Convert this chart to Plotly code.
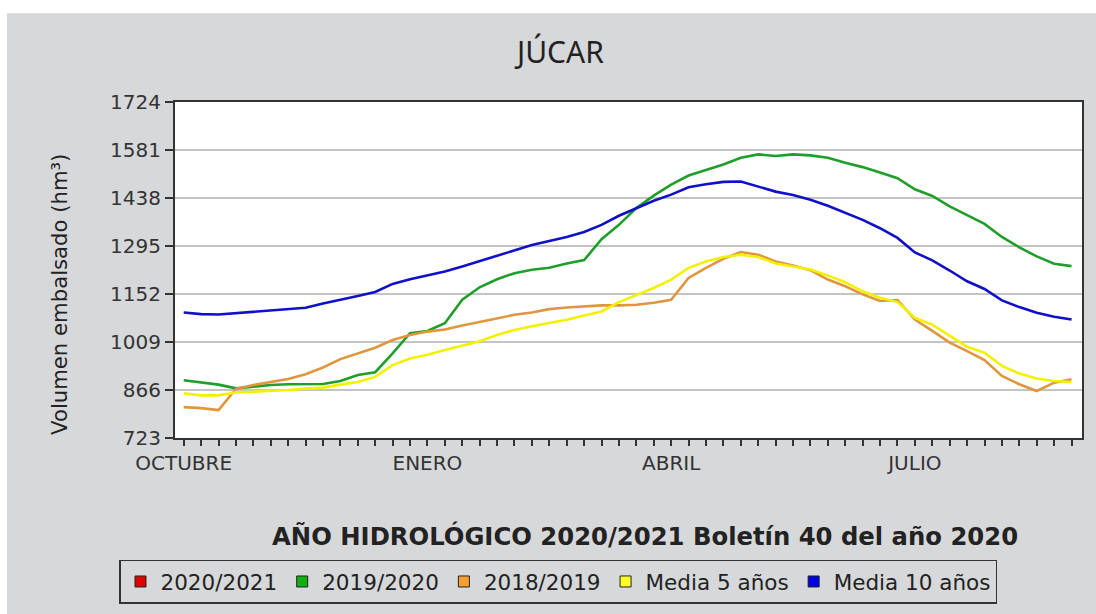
import plotly.graph_objects as go

# ---- data ----
semanas = list(range(52))
mes_pos = [0, 14, 28, 42]
mes_txt = ["OCTUBRE", "ENERO", "ABRIL", "JULIO"]
y_ticks = [723, 866, 1009, 1152, 1295, 1438, 1581, 1724]

s2020_2021 = []
s2019_2020 = [895, 888, 882, 871, 877, 881, 883, 883, 884, 893, 911, 919, 975, 1035, 1042, 1065,
              1135, 1172, 1196, 1214, 1224, 1230, 1243, 1253, 1315, 1358, 1408, 1445, 1478, 1505,
              1522, 1538, 1558, 1568, 1563, 1568, 1565, 1558, 1543, 1530, 1514, 1497, 1464, 1444,
              1413, 1388, 1361, 1322, 1291, 1264, 1242, 1235]
s2018_2019 = [815, 812, 806, 869, 881, 889, 899, 913, 933, 958, 976, 992, 1015, 1030, 1040, 1046,
              1058, 1068, 1080, 1090, 1097, 1107, 1112, 1116, 1118, 1118, 1120, 1126, 1135, 1200,
              1230, 1257, 1277, 1269, 1249, 1237, 1223, 1195, 1175, 1151, 1131, 1134, 1076, 1042,
              1007, 982, 955, 908, 883, 863, 888, 898]
media5 = [856, 850, 850, 859, 861, 863, 866, 870, 873, 882, 890, 905, 940, 960, 971, 985,
          999, 1011, 1030, 1045, 1056, 1065, 1075, 1088, 1100, 1128, 1150, 1170, 1195, 1230,
          1249, 1262, 1269, 1262, 1243, 1235, 1225, 1207, 1187, 1160, 1141, 1128, 1081, 1061,
          1027, 995, 977, 938, 915, 900, 893, 890]
media10 = [1097, 1092, 1091, 1095, 1097, 1102, 1106, 1111, 1124, 1134, 1146, 1158, 1182, 1196, 1207, 1219,
           1234, 1250, 1266, 1283, 1298, 1310, 1322, 1337, 1358, 1385, 1408, 1430, 1448, 1470,
           1479, 1486, 1487, 1472, 1457, 1447, 1433, 1415, 1395, 1373, 1348, 1319, 1276, 1252,
           1222, 1190, 1167, 1133, 1113, 1096, 1084, 1076]

series = [
    ("2020/2021", s2020_2021, "#e00000", "#e00000"),
    ("2019/2020", s2019_2020, "#1f9e2a", "#10b010"),
    ("2018/2019", s2018_2019, "#e0963c", "#f5a030"),
    ("Media 5 años", media5, "#f2f200", "#ffff20"),
    ("Media 10 años", media10, "#1010c8", "#0000e6"),
]

# ---- layout geometry ----
W, H = 1096, 614
L, R, T, B = 175, 14, 102, 175
PW, PH = W - L - R, H - T - B


def px2x(px):
    return (px - L) / PW


def py2y(py):
    return (H - B - py) / PH


BG = "#d7d8da"
FONT = "DejaVu Sans"

fig = go.Figure()

for name, vals, lc, mc in series:
    if vals:
        fig.add_trace(go.Scatter(x=semanas[:len(vals)], y=vals, mode="lines",
                                 line=dict(color=lc, width=2.6), showlegend=False,
                                 hoverinfo="skip"))
for name, vals, lc, mc in series:
    fig.add_trace(go.Scatter(x=[None], y=[None], mode="markers", name=name,
                             marker=dict(symbol="square", size=11, color=mc,
                                         line=dict(color="#222", width=1))))

ticktext = []
for s in semanas:
    ticktext.append(mes_txt[mes_pos.index(s)] if s in mes_pos else "")

fig.update_layout(
    width=W, height=H,
    margin=dict(l=L, r=R, t=T, b=B),
    paper_bgcolor=BG, plot_bgcolor="white",
    font=dict(family=FONT, color="#333"),
    xaxis=dict(range=[-0.5, 51.6], tickmode="array", tickvals=semanas, ticktext=ticktext,
               ticks="outside", ticklen=6, tickwidth=1.5, tickcolor="#333",
               showline=True, mirror=True, linecolor="#333", linewidth=2,
               showgrid=False, zeroline=False,
               tickfont=dict(family=FONT, size=20, color="#333")),
    yaxis=dict(range=[723, 1724], tickmode="array", tickvals=y_ticks,
               ticks="outside", ticklen=8, tickwidth=1.5, tickcolor="#333",
               showline=True, mirror=True, linecolor="#333", linewidth=2,
               showgrid=True, gridcolor="#c4c4c4", gridwidth=1.5, zeroline=False,
               tickfont=dict(family=FONT, size=20, color="#333")),
    legend=dict(orientation="h", x=px2x(119), y=py2y(559.5), xanchor="left", yanchor="top",
                bgcolor=BG, bordercolor="#333", borderwidth=1.5, itemwidth=30,
                font=dict(family=FONT, size=21.5, color="#222"), itemclick=False),
    showlegend=True,
    shapes=[
        dict(type="rect", xref="paper", yref="paper", x0=px2x(-10), x1=px2x(W + 10),
             y0=py2y(13), y1=py2y(-10), fillcolor="white", line=dict(width=0), layer="below"),
        dict(type="rect", xref="paper", yref="paper", x0=px2x(-10), x1=px2x(7),
             y0=py2y(H + 10), y1=py2y(-10), fillcolor="white", line=dict(width=0), layer="below"),
    ],
    annotations=[
        dict(text="JÚCAR", xref="paper", yref="paper", x=px2x(559), y=py2y(51),
             xanchor="center", yanchor="middle", showarrow=False,
             font=dict(family="Noto Sans", size=30, color="#222")),
        dict(text="<b>AÑO HIDROLÓGICO 2020/2021 Boletín 40 del año 2020</b>", xref="paper", yref="paper",
             x=px2x(645), y=py2y(537), xanchor="center", yanchor="middle", showarrow=False,
             font=dict(family=FONT, size=24.3, color="#222")),
        dict(text="Volumen embalsado (hm³)", xref="paper", yref="paper",
             x=px2x(59.5), y=py2y(295), xanchor="center", yanchor="middle", showarrow=False,
             textangle=-90, font=dict(family=FONT, size=21.2, color="#222")),
    ],
)

fig.write_html("out.html", config={"displayModeBar": False},
               post_script="document.body.style.margin='0';document.body.style.padding='0';")
